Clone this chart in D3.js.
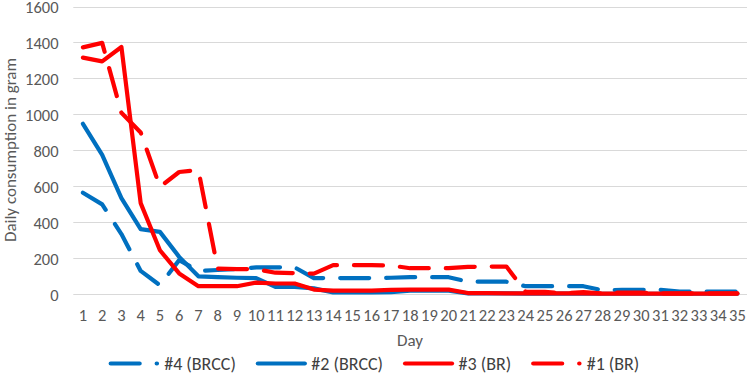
<!DOCTYPE html>
<html>
<head>
<meta charset="utf-8">
<script src="https://cdn.jsdelivr.net/npm/d3@7"></script>
<style>
  body { margin: 0; background: #fff; }
  svg { display: block; font-family: Carlito, Calibri, Roboto, sans-serif; }
</style>
</head>
<body>
<div class="chart"></div>
<script>
// days on the x axis
const days = d3.range(1, 36);
const yTicks = [0, 200, 400, 600, 800, 1000, 1200, 1400, 1600];

// daily consumption (gram)
const s4 = [565, 500, 335, 130, 50, 190, 130, 135, 140, 150, 150, 150, 90, 90, 90, 90, 92, 95, 95, 95,
  70, 70, 70, 45, 45, 45, 45, 22, 25, 25, 25, 15, 15, 15, 15];
const s2 = [948, 775, 535, 362, 347, 208, 100, 95, 92, 90, 41, 41, 33, 10, 10, 10, 12, 20, 20, 20,
  5, 5, 5, 4, 4, 4, 4, 3, 3, 3, 3, 3, 3, 3, 3];
const s3 = [1316, 1295, 1375, 507, 245, 116, 45, 45, 45, 65, 60, 60, 26, 20, 20, 20, 25, 26, 26, 26,
  7, 7, 5, 5, 5, 5, 5, 4, 4, 4, 4, 4, 4, 4, 4];
const s1 = [1373, 1398, 1009, 900, 597, 680, 690, 143, 140, 140, 120, 118, 115, 162, 162, 162, 160, 145, 145, 145,
  152, 154, 154, 14, 14, 6, 12, 5, 10, 10, 5, 5, 5, 5, 5];

const seriesNames = ["#4 (BRCC)", "#2 (BRCC)", "#3 (BR)", "#1 (BR)"];
const seriesValues = [s4, s2, s3, s1];
const seriesColors = ["#0070c0", "#0070c0", "#ff0000", "#ff0000"];
const seriesDashed = [true, false, false, true];

let width = 749, height = 375;
let tickFont = '16.5px', titleFont = '17px', legendFont = '18px';
let svg = d3.select('div.chart').append('svg')
  .attr('width', width)
  .attr('height', height);

let x = d3.scaleBand().domain(days).range([73.3, 747]).padding(0);
let y = d3.scaleLinear().domain([0, 1600]).range([294.3, 6.5]);
let cx = d => x(d) + x.bandwidth() / 2;

// gridlines
svg.append('g')
  .selectAll('line')
  .data(yTicks)
  .enter()
  .append('line')
  .attr('x1', 73.3)
  .attr('x2', 747)
  .attr('y1', d => Math.round(y(d)) + 0.5)
  .attr('y2', d => Math.round(y(d)) + 0.5)
  .attr('stroke', '#d9d9d9')
  .attr('stroke-width', 1);

// y tick labels
let yAxis = svg.append('g')
  .attr('transform', 'translate(58.5,0.5)')
  .call(d3.axisLeft(y).tickValues(yTicks).tickFormat(d3.format('d')).tickSize(0).tickPadding(0));
yAxis.select('.domain').remove();
yAxis.selectAll('text')
  .attr('fill', '#595959')
  .style('font-size', tickFont)
  .style('font-family', 'Carlito, Calibri, Roboto, sans-serif');

// x tick labels
let xAxis = svg.append('g')
  .attr('transform', 'translate(0,309)')
  .call(d3.axisBottom(x).tickSize(0).tickPadding(0));
xAxis.select('.domain').remove();
xAxis.selectAll('text')
  .attr('fill', '#595959')
  .attr('dy', '0.71em')
  .style('font-size', tickFont)
  .style('font-family', 'Carlito, Calibri, Roboto, sans-serif');

// axis titles
svg.append('text')
  .attr('x', 410)
  .attr('y', 345.5)
  .attr('text-anchor', 'middle')
  .attr('fill', '#595959')
  .style('font-size', titleFont)
  .text('Day');

svg.append('text')
  .attr('transform', 'translate(15.5,150)rotate(-90)')
  .attr('text-anchor', 'middle')
  .attr('fill', '#595959')
  .style('font-size', titleFont)
  .text('Daily consumption in gram');

// lines
let line = d3.line()
  .x((d, i) => cx(days[i]))
  .y(d => y(d));

svg.append('g')
  .selectAll('path')
  .data(seriesValues)
  .enter()
  .append('path')
  .attr('d', d => line(d))
  .attr('fill', 'none')
  .attr('stroke', (d, i) => seriesColors[i])
  .attr('stroke-width', 4.2)
  .attr('stroke-linejoin', 'round')
  .attr('stroke-linecap', 'round')
  .attr('stroke-dasharray', (d, i) => seriesDashed[i] ? '29,17' : null);

// legend
let legend = svg.append('g');
let pos = 0;
seriesNames.forEach((name, i) => {
  let item = legend.append('g').attr('transform', 'translate(' + pos + ',0)');
  item.append('line')
    .attr('x1', 2)
    .attr('x2', seriesDashed[i] ? 48.3 : 49)
    .attr('y1', 363.5)
    .attr('y2', 363.5)
    .attr('stroke', seriesColors[i])
    .attr('stroke-width', 4.2)
    .attr('stroke-linecap', 'round')
    .attr('stroke-dasharray', seriesDashed[i] ? '29,17' : null);
  let t = item.append('text')
    .attr('x', 55.5)
    .attr('y', 369.5)
    .attr('fill', '#404040')
    .style('font-size', legendFont)
    .text(name);
  pos += 55.5 + t.node().getComputedTextLength() + 20;
});
let legendWidth = pos - 20;
legend.attr('transform', 'translate(' + (374 - legendWidth / 2) + ',0)');
</script>
</body>
</html>
